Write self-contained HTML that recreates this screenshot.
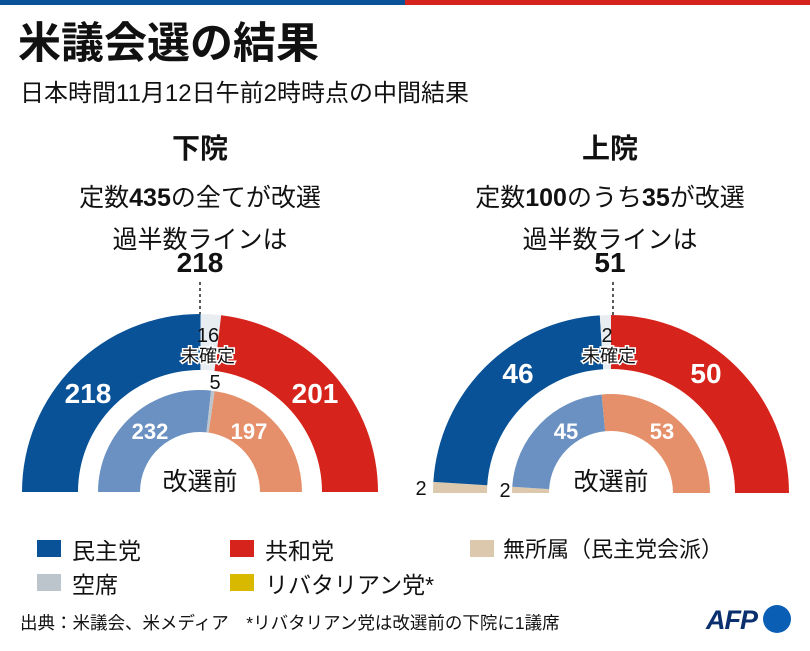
<!DOCTYPE html>
<html><head><meta charset="utf-8"><style>
body{margin:0;background:#fff;}
#c{position:relative;width:810px;height:651px;overflow:hidden;font-family:"Liberation Sans","Noto Sans CJK JP",sans-serif;color:#111;}
.t{position:absolute;white-space:nowrap;}
.sq{position:absolute;width:24px;height:17px;}
</style></head><body><div id="c">
<div style="position:absolute;left:0;top:0;width:405px;height:5px;background:#0a5297"></div>
<div style="position:absolute;left:405px;top:0;width:405px;height:5px;background:#d6241c"></div>
<div class="t" style="left:18px;top:20px;font-size:43px;font-weight:bold;line-height:1.15">米議会選の結果</div>
<div class="t" style="left:20px;top:73px;font-size:24px;">日本時間11月12日午前2時時点の中間結果</div>
<div class="t" style="left:0;width:400px;text-align:center;top:127px;font-size:28px;font-weight:bold;">下院</div>
<div class="t" style="left:410px;width:400px;text-align:center;top:127px;font-size:28px;font-weight:bold;">上院</div>
<div class="t" style="left:0;width:400px;text-align:center;top:178px;font-size:25px;">定数<b>435</b>の全てが改選</div>
<div class="t" style="left:410px;width:400px;text-align:center;top:178px;font-size:25px;">定数<b>100</b>のうち<b>35</b>が改選</div>
<div class="t" style="left:0;width:400px;text-align:center;top:220px;font-size:25px;">過半数ラインは</div>
<div class="t" style="left:410px;width:400px;text-align:center;top:220px;font-size:25px;">過半数ラインは</div>
<div class="t" style="left:0;width:400px;text-align:center;top:247px;font-size:28px;font-weight:bold;">218</div>
<div class="t" style="left:410px;width:400px;text-align:center;top:247px;font-size:28px;font-weight:bold;">51</div>
<svg id="s" width="810" height="651" style="position:absolute;left:0;top:0">
<line x1="200" y1="282" x2="200" y2="316" stroke="#222" stroke-width="1.5" stroke-dasharray="3,3"/>
<line x1="613" y1="282" x2="613" y2="316" stroke="#222" stroke-width="1.5" stroke-dasharray="3,3"/>
<g id="arcs"></g>
<g font-family="Liberation Sans,Noto Sans CJK JP,sans-serif" text-anchor="middle">
<text x="88" y="403" font-size="28" font-weight="bold" fill="#fff">218</text>
<text x="315" y="403" font-size="28" font-weight="bold" fill="#fff">201</text>
<text x="150" y="439" font-size="22" font-weight="bold" fill="#fff">232</text>
<text x="249" y="439" font-size="22" font-weight="bold" fill="#fff">197</text>
<text x="208" y="342" font-size="20" fill="#111">16</text>
<text x="208" y="362" font-size="18" fill="#111" stroke="#fff" stroke-width="3" paint-order="stroke">未確定</text>
<text x="215" y="389" font-size="20" fill="#111">5</text>
<text x="200" y="490" font-size="25" fill="#111">改選前</text>
<text x="518" y="383" font-size="28" font-weight="bold" fill="#fff">46</text>
<text x="706" y="383" font-size="28" font-weight="bold" fill="#fff">50</text>
<text x="566" y="439" font-size="22" font-weight="bold" fill="#fff">45</text>
<text x="662" y="439" font-size="22" font-weight="bold" fill="#fff">53</text>
<text x="607" y="342" font-size="20" fill="#111">2</text>
<text x="609" y="362" font-size="18" fill="#111" stroke="#fff" stroke-width="3" paint-order="stroke">未確定</text>
<text x="421" y="495" font-size="20" fill="#111">2</text>
<text x="505" y="497" font-size="20" fill="#111">2</text>
<text x="611" y="490" font-size="25" fill="#111">改選前</text>
</g>
</svg>
<div class="sq" style="left:37px;top:540px;background:#0a5297"></div><div class="t" style="left:72px;top:532px;font-size:23px;">民主党</div>
<div class="sq" style="left:230px;top:540px;background:#d6241c"></div><div class="t" style="left:265px;top:532px;font-size:23px;">共和党</div>
<div class="sq" style="left:470px;top:540px;background:#dcc8ad"></div><div class="t" style="left:503px;top:532px;font-size:22px;">無所属（民主党会派）</div>
<div class="sq" style="left:37px;top:574px;background:#bcc5cc"></div><div class="t" style="left:72px;top:566px;font-size:23px;">空席</div>
<div class="sq" style="left:230px;top:574px;background:#d9b800"></div><div class="t" style="left:265px;top:566px;font-size:23px;">リバタリアン党*</div>
<div class="t" style="left:20px;top:610px;font-size:17.5px;">出典：米議会、米メディア　*リバタリアン党は改選前の下院に1議席</div>
<div class="t" style="left:706px;top:605px;font-size:27px;font-weight:bold;font-style:italic;color:#0a2f6e;letter-spacing:-1px">AFP</div>
<div style="position:absolute;left:763px;top:605px;width:28px;height:28px;border-radius:50%;background:#0a5fb4"></div>
</div>
<script>
function arc(cx,cy,r0,r1,a0,a1,col){
 var p=function(r,a){a=a*Math.PI/180;return (cx+r*Math.cos(a)).toFixed(2)+","+(cy-r*Math.sin(a)).toFixed(2);};
 var lg=(a0-a1)>180?1:0;
 return '<path fill="'+col+'" d="M'+p(r1,a0)+' A'+r1+','+r1+' 0 '+lg+' 1 '+p(r1,a1)+' L'+p(r0,a1)+' A'+r0+','+r0+' 0 '+lg+' 0 '+p(r0,a0)+' Z"/>';
}
function ring(cx,cy,r0,r1,segs){
 var tot=0;segs.forEach(function(s){tot+=s[0];});
 var a=180,h='';segs.forEach(function(s){var b=a-180*s[0]/tot;h+=arc(cx,cy,r0,r1,a,b,s[1]);a=b;});return h;
}
var B='#0a5297',R='#d6241c',U='#e8edf2',LB='#6a91c1',LR='#e5906a',G='#bcc5cc',T='#dcc8ad';
var h='';
h+=ring(200,492,122,178,[[218,B],[16,U],[201,R]]);
h+=ring(200,492,60,102,[[232,LB],[5,G],[197,LR]]);
h+=ring(611,493,124,178,[[2,T],[46,B],[2,U],[50,R]]);
h+=ring(611,493,62,99,[[2,T],[45,LB],[53,LR]]);
document.getElementById('arcs').innerHTML=h;
</script>
</body></html>
